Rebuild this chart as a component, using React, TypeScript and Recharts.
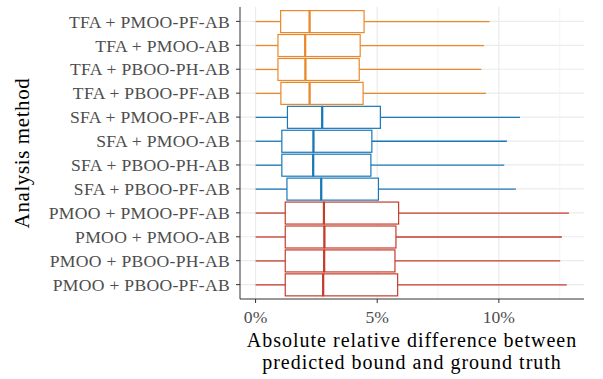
import { ComposedChart, Bar, XAxis, YAxis, CartesianGrid } from 'recharts';

const categories = [
  'TFA + PMOO-PF-AB',
  'TFA + PMOO-AB',
  'TFA + PBOO-PH-AB',
  'TFA + PBOO-PF-AB',
  'SFA + PMOO-PF-AB',
  'SFA + PMOO-AB',
  'SFA + PBOO-PH-AB',
  'SFA + PBOO-PF-AB',
  'PMOO + PMOO-PF-AB',
  'PMOO + PMOO-AB',
  'PMOO + PBOO-PH-AB',
  'PMOO + PBOO-PF-AB',
];
// box plot statistics, in percent
const whiskerLow = [0, 0, 0, 0, 0, 0, 0, 0, 0, 0, 0, 0];
const lowerQuartile = [1.03, 0.92, 0.92, 1.04, 1.31, 1.08, 1.08, 1.29, 1.22, 1.22, 1.22, 1.22];
const medians = [2.22, 2.04, 2.05, 2.22, 2.74, 2.38, 2.37, 2.7, 2.81, 2.83, 2.82, 2.78];
const upperQuartile = [4.46, 4.3, 4.26, 4.42, 5.13, 4.78, 4.74, 5.05, 5.88, 5.77, 5.73, 5.84];
const whiskerHigh = [9.62, 9.39, 9.28, 9.47, 10.87, 10.33, 10.22, 10.7, 12.88, 12.59, 12.52, 12.79];

const majorTicks = [0, 5, 10];
const minorTicks = [2.5, 7.5, 12.5];

const groupColor: Record<string, string> = {
  TFA: '#E8892B',
  SFA: '#1A78B8',
  PMOO: '#C43C2B',
};

const FONT = '"Liberation Serif", "DejaVu Serif", serif';

// stacked segments: base -> lower whisker -> lower box -> upper box -> upper whisker
const data = categories.map((name, i) => ({
  name,
  base: whiskerLow[i],
  wLow: lowerQuartile[i] - whiskerLow[i],
  boxLow: medians[i] - lowerQuartile[i],
  boxHigh: upperQuartile[i] - medians[i],
  wHigh: whiskerHigh[i] - upperQuartile[i],
}));

const colorOf = (name: string) => groupColor[name.split(' + ')[0]];

const Empty = () => <g />;

const Whisker = (props: any) => {
  const { x, y, width, height, payload } = props;
  const cy = y + height / 2;
  return <line x1={x} x2={x + width} y1={cy} y2={cy} stroke={colorOf(payload.name)} strokeWidth={1.3} />;
};

const LowerBox = (props: any) => {
  const { x, y, width, height, payload } = props;
  return (
    <rect x={x} y={y} width={width} height={height} fill="#fff" stroke={colorOf(payload.name)} strokeWidth={1.2} />
  );
};

const UpperBox = (props: any) => {
  const { x, y, width, height, payload } = props;
  const c = colorOf(payload.name);
  return (
    <g>
      <rect x={x} y={y} width={width} height={height} fill="#fff" stroke={c} strokeWidth={1.2} />
      <line x1={x} x2={x} y1={y} y2={y + height} stroke={c} strokeWidth={2.2} />
    </g>
  );
};

const XTitle = (props: any) => {
  const { viewBox } = props;
  const cx = viewBox.x + viewBox.width / 2;
  return (
    <text x={cx} textAnchor="middle" fontFamily={FONT} fontSize={20} letterSpacing={1} fill="#000">
      <tspan x={cx} y={viewBox.y + 48}>Absolute relative difference between</tspan>
      <tspan x={cx} y={viewBox.y + 70}>predicted bound and ground truth</tspan>
    </text>
  );
};

const YTitle = (props: any) => {
  const { viewBox } = props;
  const cy = viewBox.y + viewBox.height / 2;
  const x = viewBox.x + 29;
  return (
    <text
      x={x}
      y={cy}
      transform={`rotate(-90, ${x}, ${cy})`}
      textAnchor="middle"
      fontFamily={FONT}
      fontSize={21}
      letterSpacing={0.6}
      fill="#000"
    >
      Analysis method
    </text>
  );
};

export default function App() {
  return (
    <div style={{ position: 'absolute', left: 0, top: 0, background: '#fff' }}>
      <ComposedChart
        width={603}
        height={379}
        data={data}
        layout="vertical"
        margin={{ top: 7, right: 19, bottom: 0, left: 0 }}
        barCategoryGap="5%"
      >
        <CartesianGrid stroke="#EBEBEB" strokeWidth={1.2} verticalValues={majorTicks} syncWithTicks />
        <CartesianGrid stroke="#EFEFEF" strokeWidth={0.7} horizontal={false} verticalValues={minorTicks} syncWithTicks />
        <XAxis
          type="number"
          domain={[-0.64, 13.5]}
          ticks={majorTicks}
          tickFormatter={(v) => `${v}%`}
          height={80}
          tickSize={4}
          tickMargin={8}
          stroke="#333"
          tick={{ fill: '#4D4D4D', fontSize: 17.6, fontFamily: FONT }}
          label={<XTitle />}
        />
        <XAxis
          xAxisId="top"
          orientation="top"
          type="number"
          domain={[-0.64, 13.5]}
          height={0}
          tick={false}
          tickLine={false}
          stroke="#333"
        />
        <YAxis
          type="category"
          dataKey="name"
          width={240}
          tickSize={4}
          tickMargin={6}
          padding={{ top: 2.4, bottom: 2.4 }}
          stroke="#333"
          tick={{ fill: '#4D4D4D', fontSize: 17.6, fontFamily: FONT, letterSpacing: 0.3 }}
          interval={0}
          label={<YTitle />}
        />
        <YAxis
          yAxisId="right"
          orientation="right"
          type="number"
          domain={[0, 1]}
          width={0}
          tick={false}
          tickLine={false}
          stroke="#333"
        />
        <Bar dataKey="base" stackId="b" shape={<Empty />} isAnimationActive={false} />
        <Bar dataKey="wLow" stackId="b" shape={<Whisker />} isAnimationActive={false} />
        <Bar dataKey="boxLow" stackId="b" shape={<LowerBox />} isAnimationActive={false} />
        <Bar dataKey="boxHigh" stackId="b" shape={<UpperBox />} isAnimationActive={false} />
        <Bar dataKey="wHigh" stackId="b" shape={<Whisker />} isAnimationActive={false} />
      </ComposedChart>
    </div>
  );
}
